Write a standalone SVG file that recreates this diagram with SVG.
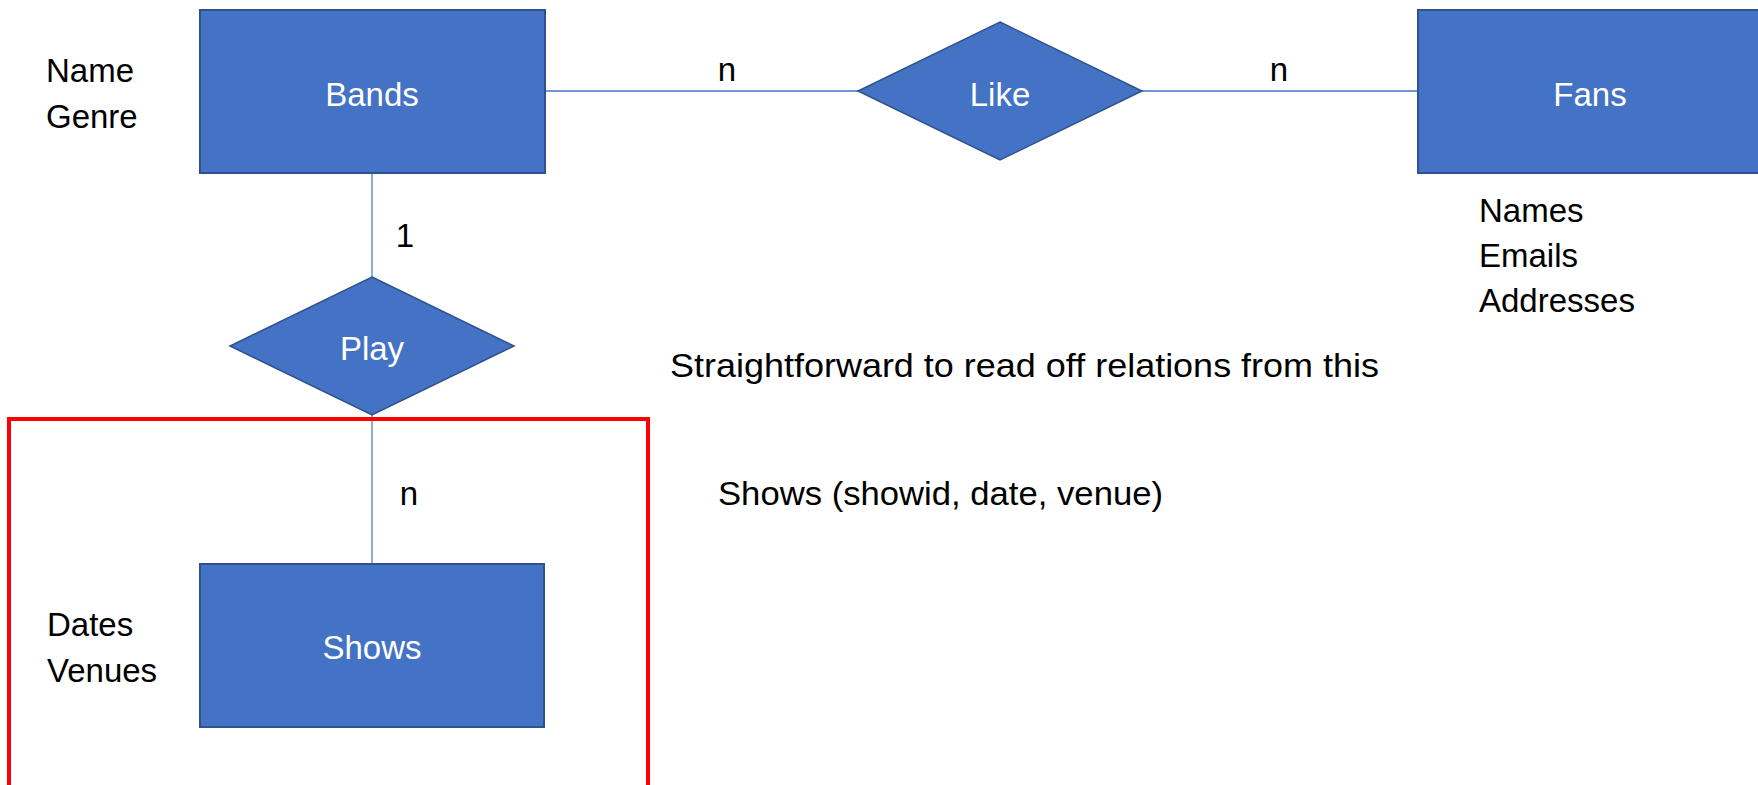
<svg xmlns="http://www.w3.org/2000/svg" width="1758" height="785" viewBox="0 0 1758 785">
  <style>
    .entity { fill: #4472C4; stroke: #2F528F; stroke-width: 2; }
    .rel { fill: #4472C4; stroke: #2F528F; stroke-width: 1.5; }
    .label { font-family: "Liberation Sans", Arial, sans-serif; font-size: 33px; fill: #FFFFFF; text-anchor: middle; }
    .note { font-family: "Liberation Sans", Arial, sans-serif; font-size: 33px; fill: #000000; }
    .link-h { stroke: #4472C4; stroke-width: 1.5; fill: none; }
    .link-v { stroke: #8FAADC; stroke-width: 2; fill: none; }
    .frame { fill: none; stroke: #FF0000; stroke-width: 4; }
  </style>
  <rect width="1758" height="785" fill="#FFFFFF"/>

  <!-- connectors -->
  <g id="connectors">
    <line class="link-h" x1="545" y1="91" x2="858" y2="91"/>
    <line class="link-h" x1="1142" y1="91" x2="1418" y2="91"/>
    <line class="link-v" x1="372" y1="173" x2="372" y2="277"/>
    <line class="link-v" x1="372" y1="415" x2="372" y2="564"/>
    <text class="note" x="727" y="81" text-anchor="middle">n</text>
    <text class="note" x="1279" y="81" text-anchor="middle">n</text>
    <text class="note" x="405" y="247" text-anchor="middle">1</text>
    <text class="note" x="409" y="505" text-anchor="middle">n</text>
  </g>

  <!-- entity: Bands -->
  <g id="bands">
    <rect class="entity" x="200" y="10" width="345" height="163"/>
    <text class="label" x="372" y="106">Bands</text>
    <text class="note" x="46" y="82">Name</text>
    <text class="note" x="46" y="128">Genre</text>
  </g>

  <!-- relationship: Like -->
  <g id="like">
    <polygon class="rel" points="1000,22 1142,91 1000,160 858,91"/>
    <text class="label" x="1000" y="106">Like</text>
  </g>

  <!-- entity: Fans -->
  <g id="fans">
    <rect class="entity" x="1418" y="10" width="345" height="163"/>
    <text class="label" x="1590" y="106">Fans</text>
    <text class="note" x="1479" y="222">Names</text>
    <text class="note" x="1479" y="267">Emails</text>
    <text class="note" x="1479" y="312">Addresses</text>
  </g>

  <!-- relationship: Play -->
  <g id="play">
    <polygon class="rel" points="372,277 514,346 372,415 230,346"/>
    <text class="label" x="372" y="360">Play</text>
  </g>

  <!-- highlighted area around Shows -->
  <g id="highlight">
    <rect class="frame" x="9" y="419" width="639" height="420"/>
  </g>

  <!-- entity: Shows -->
  <g id="shows">
    <rect class="entity" x="200" y="564" width="344" height="163"/>
    <text class="label" x="372" y="659">Shows</text>
    <text class="note" x="47" y="636">Dates</text>
    <text class="note" x="47" y="682">Venues</text>
  </g>

  <!-- notes -->
  <g id="notes">
    <text class="note" x="670" y="377" textLength="709" lengthAdjust="spacingAndGlyphs">Straightforward to read off relations from this</text>
    <text class="note" x="718" y="505" textLength="445" lengthAdjust="spacingAndGlyphs">Shows (showid, date, venue)</text>
  </g>
</svg>
